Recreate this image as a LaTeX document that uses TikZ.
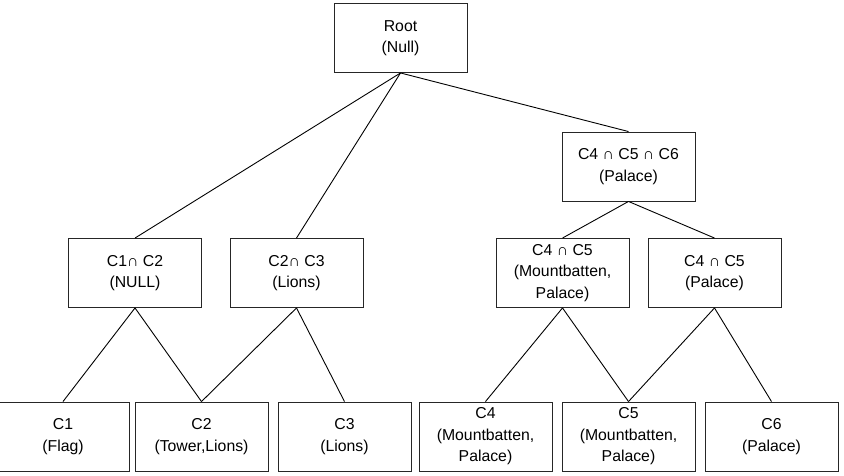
\documentclass[tikz,border=0pt]{standalone}
\usepackage{fontspec}
\setmainfont{Liberation Sans}
\begin{document}
\begin{tikzpicture}[x=1pt,y=-1pt,
  box/.style={draw=black!85,line width=0.9pt,minimum width=133pt,minimum height=69pt,inner sep=0pt,align=center,font=\fontsize{15.8}{21.5}\selectfont},
  link/.style={draw=black,line width=0.9pt}]
\useasboundingbox (0,0) rectangle (844,476);
\node[box] (root) at (400.5,38) {Root\\(Null)};
\node[box] (c456) at (628.5,166.5) {C4 ∩ C5 ∩ C6\\(Palace)};
\node[box] (c12) at (135,273) {C1∩ C2\\(NULL)};
\node[box] (c23) at (296.5,273) {C2∩ C3\\(Lions)};
\node[box] (c45a) at (562.5,273) {C4 ∩ C5\\(Mountbatten,\\Palace)};
\node[box] (c45b) at (714.5,273) {C4 ∩ C5\\(Palace)};
\node[box] (c1) at (63,436.5) {C1\\(Flag)};
\node[box] (c2) at (201.5,436.5) {C2\\(Tower,Lions)};
\node[box] (c3) at (344.5,436.5) {C3\\(Lions)};
\node[box] (c4) at (485.5,436.5) {C4\\(Mountbatten,\\Palace)};
\node[box] (c5) at (628.5,436.5) {C5\\(Mountbatten,\\Palace)};
\node[box] (c6) at (771.5,436.5) {C6\\(Palace)};
\draw[link] (root.south) -- (c12.north);
\draw[link] (root.south) -- (c23.north);
\draw[link] (root.south) -- (c456.north);
\draw[link] (c456.south) -- (c45a.north);
\draw[link] (c456.south) -- (c45b.north);
\draw[link] (c12.south) -- (c1.north);
\draw[link] (c12.south) -- (c2.north);
\draw[link] (c23.south) -- (c2.north);
\draw[link] (c23.south) -- (c3.north);
\draw[link] (c45a.south) -- (c4.north);
\draw[link] (c45a.south) -- (c5.north);
\draw[link] (c45b.south) -- (c5.north);
\draw[link] (c45b.south) -- (c6.north);
\end{tikzpicture}
\end{document}
